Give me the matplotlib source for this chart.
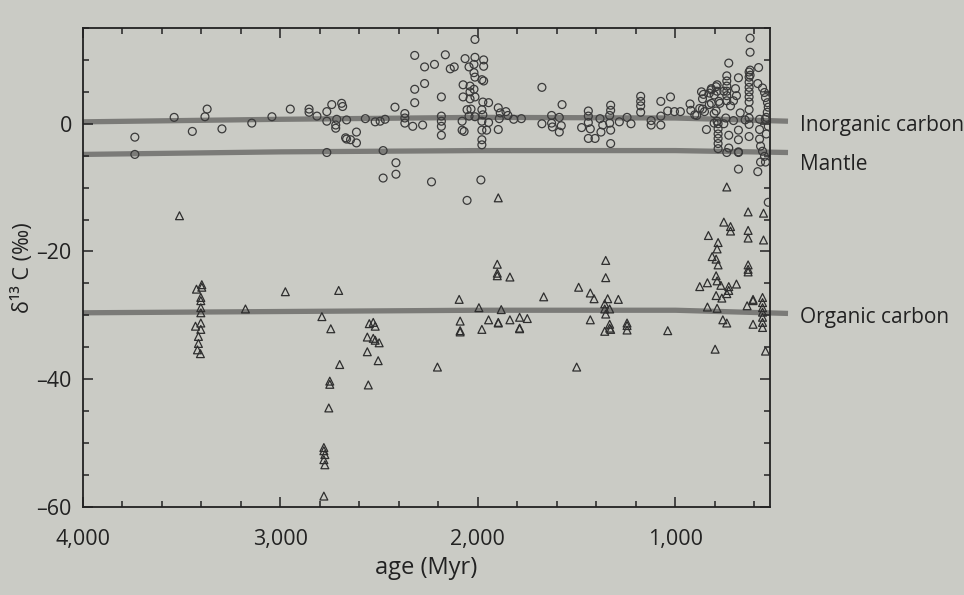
import matplotlib
matplotlib.use('Agg')
import matplotlib.pyplot as plt
from matplotlib.ticker import MultipleLocator, FixedLocator, FuncFormatter

plt.rcParams['font.family'] = ['Open Sans', 'DejaVu Sans']

# ---------------- data ----------------
circle_age = [3737, 3737, 3538, 3446, 3382, 3371, 3296, 3145, 3043, 2950, 2855, 2855, 2815, 2765, 2765,
              2740, 2690, 2685, 2715, 2720, 2720, 2665, 2665, 2765, 2670, 2645, 2615, 2615, 2570, 2520,
              2495, 2470, 2420, 2370, 2370, 2370, 2330, 2280, 2480, 2415, 2415, 2480, 2235, 2320, 2270,
              2220, 2320, 2270, 2320, 2185, 2185, 2185, 2185, 2185, 2015, 2165, 2140, 2120, 2065, 2015,
              1971, 2045, 2020, 1971, 2020, 2015, 1971, 2075, 2040, 2020, 2075, 2040, 2040, 2015, 1975,
              1946, 1676, 1574, 2080, 2080, 2055, 2035, 2045, 2015, 1980, 1975, 1980, 1980, 1956, 1946,
              1980, 1980, 1897, 1887, 1892, 1858, 1848, 1897, 1819, 1780, 1676, 1627, 1627, 1588, 1578,
              1588, 1623, 1985, 2055, 1980, 2070,
              1475, 1441, 1441, 1441, 1431, 1441, 1407, 1382, 1368, 1377, 1333, 1328, 1328, 1333, 1328,
              1284, 1245, 1225, 1328, 1176, 1176, 1176, 1176, 1123, 1123, 1074, 1074, 1074, 1025, 1039,
              1005, 975, 926, 922, 892, 868, 863, 843, 819, 804, 794, 829, 794, 780, 804, 755, 784, 784,
              784, 784, 784, 784, 730, 622, 622, 579, 622, 622, 681, 681, 681, 583, 740, 530,
              740, 740, 740, 740, 740,
              627, 627, 627, 627, 627, 627, 627, 627, 627, 627, 627,
              696, 691, 706,
              583, 559, 549, 544, 534, 530, 535, 540,
              789, 818, 789, 858, 828, 877, 863,
              818, 775, 740, 721,
              902, 853, 804, 789, 755, 706, 672, 647,
              730, 730, 681, 681, 745, 681,
              574, 574, 574, 569, 559, 549, 569, 544,
              530, 540, 545]
circle_d13c = [-2.1, -4.8, 1.0, -1.2, 1.1, 2.3, -0.8, 0.1, 1.1, 2.3, 2.3, 1.8, 1.2, 1.9, 0.4,
               3.0, 3.2, 2.7, 0.7, -0.2, -0.7, 0.6, -2.4, -4.5, -2.2, -2.5, -1.3, -3.0, 0.8, 0.3,
               0.4, 0.7, 2.6, 1.6, 0.9, 0.1, -0.4, -0.2, -4.2, -6.1, -7.9, -8.5, -9.1, 10.7, 8.9,
               9.3, 5.4, 6.3, 3.3, 4.2, 1.2, 0.4, -0.4, -1.8, 13.2, 10.8, 8.6, 8.9, 10.2, 10.4,
               10.0, 8.9, 9.3, 9.0, 8.0, 7.3, 6.7, 6.1, 5.9, 5.4, 4.2, 5.0, 3.9, 4.2, 3.4,
               3.3, 5.7, 3.0, 0.4, -1.0, 2.2, 2.3, 1.2, 1.1, 2.2, 1.4, 0.4, -1.0, -1.0, 0.2,
               -2.5, -3.3, 2.5, 1.7, 0.8, 1.9, 1.3, -0.9, 0.7, 0.8, 0.0, 1.3, 0.1, 1.0, -0.3,
               -1.3, -0.5, -8.8, -12.0, 6.9, -1.2,
               -0.6, 2.0, 1.2, 0.2, -0.8, -2.3, -2.3, 0.8, -0.2, -1.3, 1.3, 2.9, 2.1, 0.1, -1.0,
               0.3, 1.0, 0.0, -3.1, 4.3, 3.5, 2.8, 1.8, 0.5, -0.2, 3.5, 1.2, -0.2, 4.2, 2.0,
               1.9, 1.9, 3.1, 2.1, 1.3, 5.0, 2.3, -0.9, 5.3, 4.5, 5.8, 3.0, 2.0, 3.5, 0.1, 5.1, 0.0, -0.8,
               -1.6, -2.3, -3.1, -3.9, 9.5, 13.4, 11.2, 8.8, 8.4, 7.6, 7.2, -4.5, -7.1, -7.5, -4.5, -12.3,
               7.5, 6.7, 5.9, 5.1, 4.4,
               8.1, 7.3, 6.5, 5.7, 5.0, 4.2, 3.4, 2.2, 0.9, -0.1, -2.0,
               5.5, 4.4, 3.6,
               6.3, 5.6, 4.9, 4.1, 3.3, 2.6, 1.8, 1.0,
               6.1, 5.5, 5.1, 4.6, 4.8, 2.4, 3.9,
               3.2, 3.2, 3.6, 2.8,
               1.4, 1.9, 1.6, 0.4, 0.0, 0.5, 1.7, 0.6,
               -1.8, -3.8, -2.5, -4.4, 0.9, -1.0,
               0.7, -0.9, -2.4, -3.5, -4.3, -5.1, -6.0, -6.0,
               -0.4, -1.6, 0.7]

tri_age = [3511, 3425, 3398, 3398, 3403, 3403, 3403, 3403, 3430, 3403, 3403, 3415, 3415, 3420, 3405,
           3177, 2975, 2705, 2790, 2745, 2700, 2750, 2750, 2755, 2780, 2780, 2775, 2780, 2775, 2780,
           2550, 2530, 2520, 2560, 2530, 2520, 2500, 2560, 2505, 2555, 2205, 2095, 2090, 2090, 2090,
           1995, 1980, 1946, 1902, 1902, 1902, 1838, 1882, 1897, 1897, 1838, 1789, 1750, 1789, 1789,
           1667, 1490, 1500, 1431, 1412, 1431, 1353, 1353, 1358, 1358, 1353, 1343, 1333, 1333, 1333,
           1358, 1328, 1289, 1245, 1245, 1245, 1039, 740, 833, 755, 721, 721, 784, 789, 814, 794, 784,
           794, 789, 877, 838, 770, 730, 691, 794, 765, 740, 730, 838, 789, 760, 740, 799,
           632, 554, 632, 632, 554, 632, 632, 632, 637, 607, 607, 559, 559, 559, 559, 559, 559, 559,
           607, 544, 1897]
tri_d13c = [-14.4, -25.9, -25.2, -25.6, -27.2, -27.7, -28.8, -29.6, -31.7, -31.2, -32.2, -33.3, -34.4, -35.4, -36.0,
            -29.0, -26.3, -26.1, -30.2, -32.1, -37.7, -40.3, -40.8, -44.5, -50.7, -51.2, -51.8, -52.6, -53.4, -58.3,
            -31.3, -31.1, -31.7, -33.4, -33.6, -33.9, -34.3, -35.7, -37.1, -40.9, -38.1, -27.5, -30.9, -32.4, -32.6,
            -28.8, -32.2, -30.7, -22.0, -23.4, -23.8, -24.0, -29.1, -31.1, -31.2, -30.7, -30.3, -30.5, -32.0, -32.1,
            -27.1, -25.6, -38.1, -26.5, -27.4, -30.7, -21.4, -24.1, -28.2, -29.0, -29.8, -27.4, -29.0, -31.4, -32.0,
            -32.5, -32.2, -27.5, -31.2, -31.6, -32.3, -32.4, -9.9, -17.5, -15.4, -16.1, -16.8, -18.6, -19.6, -20.8, -21.2, -22.1,
            -23.8, -24.6, -25.5, -24.9, -25.3, -25.5, -25.1, -26.9, -27.3, -26.6, -26.1, -28.7, -28.9, -30.7, -31.2, -35.3,
            -13.8, -14.0, -16.7, -17.9, -18.2, -22.1, -22.8, -23.2, -28.5, -27.5, -27.7, -27.2, -28.0, -28.8, -29.5, -30.3, -31.1, -31.9,
            -31.4, -35.6, -11.6]

line_age = [4000, 3000, 2000, 1000, 430]
inorganic_line = [0.3, 0.7, 1.0, 0.9, 0.4]
mantle_line = [-4.8, -4.4, -4.2, -4.2, -4.5]
organic_line = [-29.6, -29.4, -29.2, -29.2, -29.7]

line_labels = ['Inorganic carbon', 'Mantle', 'Organic carbon']
label_y = [-0.3, -6.4, -30.4]

x_major = [4000, 3000, 2000, 1000]
y_major = [-60, -40, -20, 0]

# ---------------- figure ----------------
bg = '#cacbc5'
ink = '#222222'
fig = plt.figure(figsize=(9.64, 5.95), dpi=100)
fig.patch.set_facecolor(bg)
ax = fig.add_axes([0.086, 0.148, 0.713, 0.805])
ax.set_facecolor(bg)

for vals in (inorganic_line, mantle_line, organic_line):
    ax.plot(line_age, vals, color='#7b7b78', lw=3.8, solid_capstyle='butt',
            zorder=1, clip_on=False)

ax.scatter(circle_age, circle_d13c, s=32, marker='o', facecolors='none',
           edgecolors='#3a3a3a', linewidths=0.9, zorder=3)
ax.scatter(tri_age, tri_d13c, s=32, marker='^', facecolors='none',
           edgecolors='#2e2e2e', linewidths=0.9, zorder=3)

ax.set_xlim(4000, 520)
ax.set_ylim(-60, 15)
ax.xaxis.set_major_locator(FixedLocator(x_major))
ax.xaxis.set_minor_locator(MultipleLocator(200))
ax.yaxis.set_major_locator(FixedLocator(y_major))
ax.yaxis.set_minor_locator(MultipleLocator(5))
ax.xaxis.set_major_formatter(FuncFormatter(lambda v, p: f"{int(round(v)):,}"))
ax.yaxis.set_major_formatter(FuncFormatter(lambda v, p: f"{int(round(v))}".replace('-', '\u2013')))

ax.tick_params(which='both', direction='in', top=True, right=True, colors=ink,
               labelsize=15.5, width=1.1)
ax.tick_params(which='major', length=7)
ax.tick_params(which='minor', length=4)
ax.tick_params(axis='x', which='major', pad=16)
ax.tick_params(axis='y', which='major', pad=8)
for sp in ax.spines.values():
    sp.set_linewidth(1.3)
    sp.set_color(ink)

ax.set_xlabel('age (Myr)', fontsize=17, color=ink, labelpad=4)
ax.set_ylabel('\u03b4\u00b9\u00b3 C (\u2030)', fontsize=15.5, color=ink, labelpad=2)

tr = ax.get_yaxis_transform()
for txt, yv in zip(line_labels, label_y):
    ax.text(1.043, yv, txt, transform=tr, fontsize=15, color=ink,
            ha='left', va='center', clip_on=False)

fig.savefig('out.png', dpi=100, facecolor=bg)
